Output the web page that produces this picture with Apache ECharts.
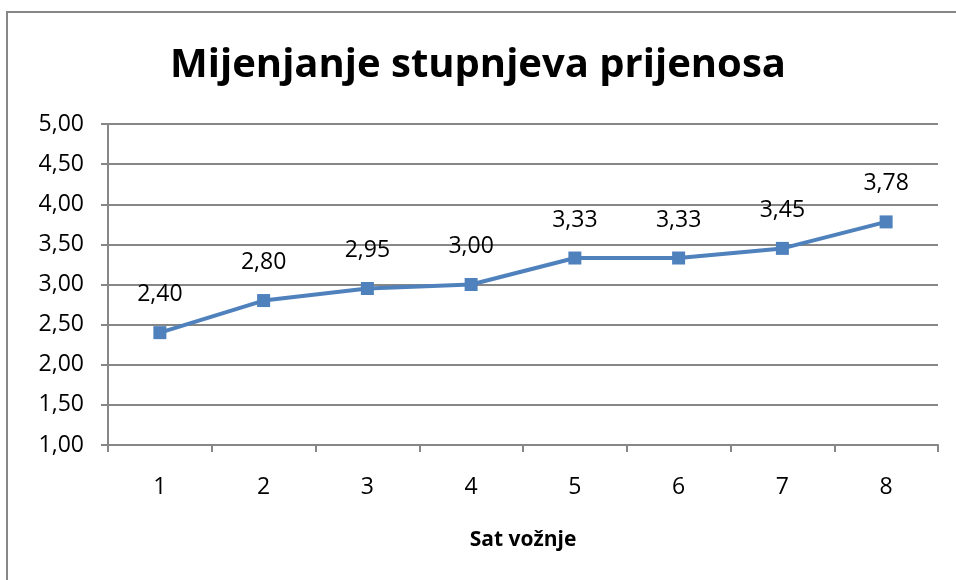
<!DOCTYPE html>
<html>
<head>
<meta charset="utf-8">
<script src="https://cdn.jsdelivr.net/npm/echarts@6/dist/echarts.min.js"></script>
<style>
  html, body { margin: 0; padding: 0; background: #fff; }
  #chart { width: 956px; height: 580px; }
</style>
</head>
<body>
<div id="chart"></div>
<script>
// podaci
var sati = ['1', '2', '3', '4', '5', '6', '7', '8'];
var stupnjevi = [2.40, 2.80, 2.95, 3.00, 3.33, 3.33, 3.45, 3.78];

var font = '"Open Sans", "Noto Sans", sans-serif';
var siva = '#878787';

var myechart = echarts.init(document.getElementById('chart'));
myechart.setOption({
  animation: false,
  graphic: [{
    type: 'rect',
    shape: { x: 7, y: 12, width: 1000, height: 1000 },
    style: { fill: 'none', stroke: siva, lineWidth: 2 }
  }],
  title: {
    text: 'Mijenjanje stupnjeva prijenosa',
    left: 'center',
    top: 41,
    textStyle: { fontFamily: font, fontSize: 40, fontWeight: 'bold', color: '#000' }
  },
  grid: { left: 108, right: 18, top: 124, bottom: 135 },
  xAxis: {
    type: 'category',
    data: sati,
    boundaryGap: true,
    name: 'Sat vožnje',
    nameLocation: 'middle',
    nameGap: 85,
    nameTextStyle: { fontFamily: font, fontSize: 21, fontWeight: 'bold', color: '#000' },
    axisLine: { lineStyle: { color: siva, width: 2 } },
    axisTick: { show: true, length: 7, lineStyle: { color: siva, width: 2 } },
    axisLabel: { fontFamily: font, fontSize: 23, color: '#000', margin: 31 }
  },
  yAxis: {
    type: 'value',
    min: 1,
    max: 5,
    interval: 0.5,
    axisLine: { show: true, lineStyle: { color: siva, width: 2 } },
    axisTick: { show: true, length: 7, lineStyle: { color: siva, width: 2 } },
    splitLine: { lineStyle: { color: siva, width: 2 } },
    axisLabel: {
      fontFamily: font, fontSize: 23, color: '#000', margin: 24,
      formatter: function (v) { return v.toFixed(2).replace('.', ','); }
    }
  },
  series: [{
    type: 'line',
    data: stupnjevi,
    symbol: 'rect',
    symbolSize: 13,
    lineStyle: { color: '#4F81BD', width: 4 },
    itemStyle: { color: '#4F81BD' },
    label: {
      show: true,
      position: 'top',
      distance: 20,
      fontFamily: font,
      fontSize: 23,
      color: '#000',
      formatter: function (p) { return p.value.toFixed(2).replace('.', ','); }
    }
  }]
});
</script>
</body>
</html>
